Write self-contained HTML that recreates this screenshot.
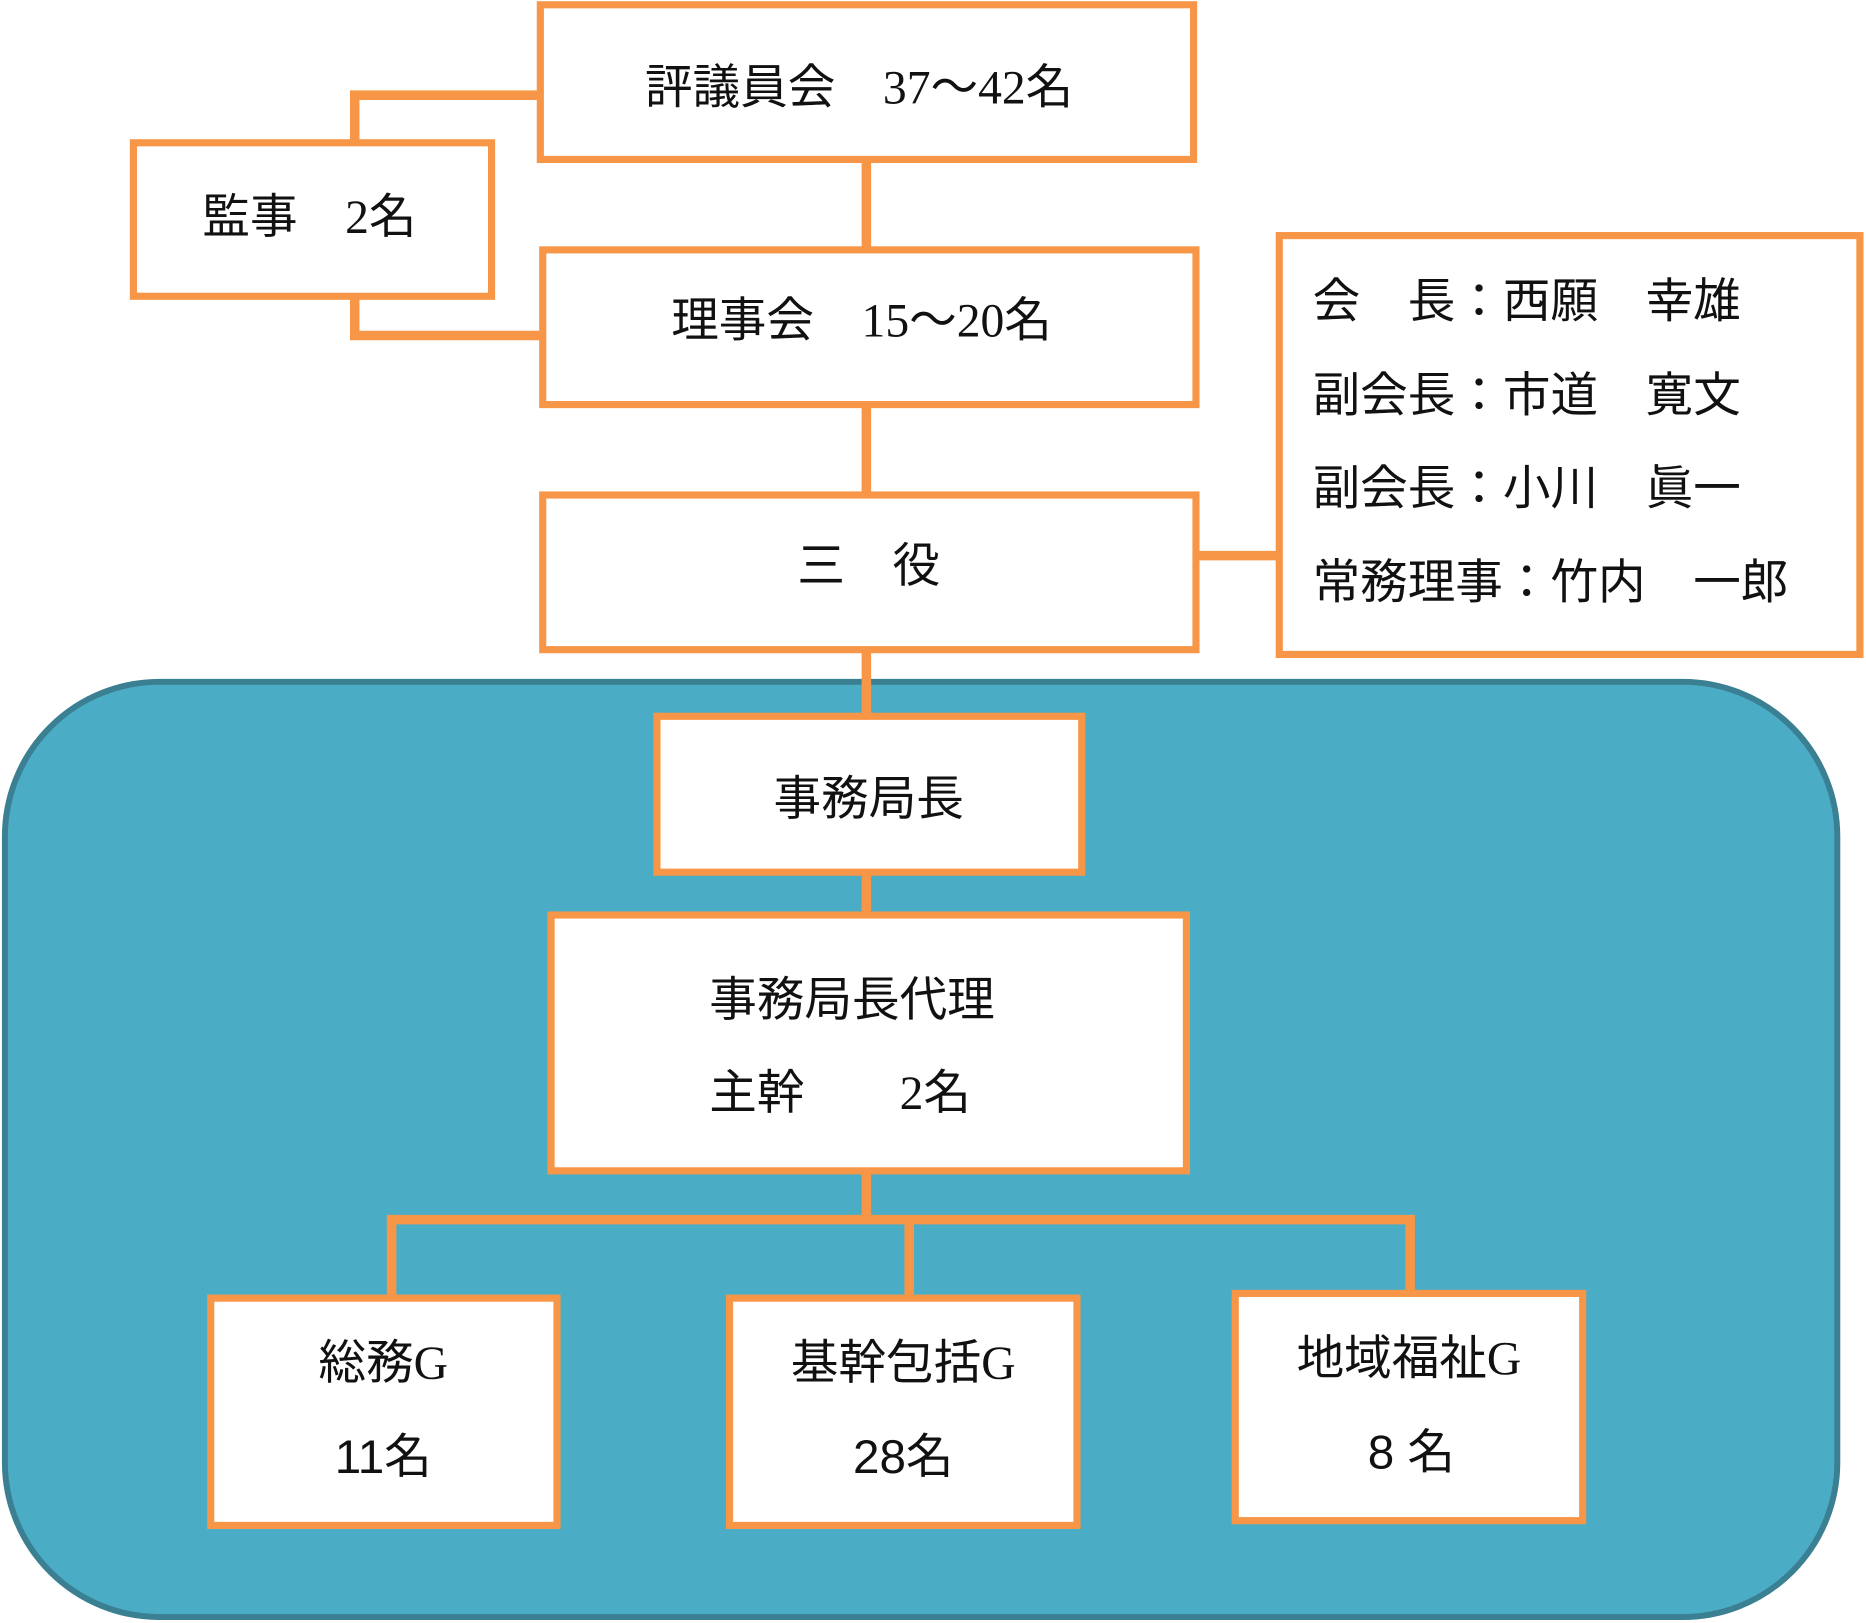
<!DOCTYPE html>
<html><head><meta charset="utf-8">
<style>
html,body{margin:0;padding:0;background:#fff;}
svg{display:block;}
text{font-family:"Liberation Sans","Noto Sans CJK JP",sans-serif;font-size:40px;fill:#111;}
.s{font-family:"Liberation Serif","Noto Sans CJK JP",serif;}
</style></head><body>
<svg width="1866" height="1623" viewBox="0 0 1568 1364" xmlns="http://www.w3.org/2000/svg">
<rect x="0" y="0" width="1568" height="1364" fill="#fff"/>
<rect x="4" y="573" width="1540" height="786" rx="130" ry="130" fill="#4BACC6" stroke="#3B7F92" stroke-width="5"/>
<g stroke="#F79646" stroke-width="8" fill="none">
<polyline points="454,80 298,80 298,119"/>
<polyline points="298,249 298,282 456,282"/>
<line x1="728" y1="134" x2="728" y2="209"/>
<line x1="728" y1="340" x2="728" y2="415"/>
<line x1="1005" y1="467" x2="1075" y2="467"/>
<line x1="728" y1="546" x2="728" y2="602"/>
<line x1="728" y1="733" x2="728" y2="768"/>
<line x1="728" y1="984" x2="728" y2="1025"/>
<line x1="325" y1="1025" x2="1189" y2="1025"/>
<line x1="329" y1="1025" x2="329" y2="1091"/>
<line x1="764" y1="1025" x2="764" y2="1091"/>
<line x1="1185" y1="1025" x2="1185" y2="1087"/>
</g>
<g stroke="#F79646" stroke-width="6" fill="#fff">
<rect x="454" y="4" width="549" height="130"/>
<rect x="112" y="120" width="301" height="129"/>
<rect x="456" y="210" width="549" height="130"/>
<rect x="456" y="416" width="549" height="130"/>
<rect x="1075" y="198" width="488" height="352"/>
<rect x="552" y="602" width="357" height="131"/>
<rect x="463" y="769" width="534" height="215"/>
<rect x="177" y="1091" width="291" height="191"/>
<rect x="613" y="1091" width="292" height="191"/>
<rect x="1038" y="1087" width="292" height="191"/>
</g>
<text x="542" y="87">評議員会　<tspan class="s">37～42</tspan>名</text>
<text x="170" y="196">監事　<tspan class="s">2</tspan>名</text>
<text x="564" y="283">理事会　<tspan class="s">15～20</tspan>名</text>
<text x="670" y="489">三　役</text>
<text x="1103" y="267">会　長：西願　幸雄</text>
<text x="1103" y="346">副会長：市道　寛文</text>
<text x="1103" y="424">副会長：小川　眞一</text>
<text x="1103" y="503">常務理事：竹内　一郎</text>
<text x="650" y="685">事務局長</text>
<text x="596" y="854">事務局長代理</text>
<text x="596" y="932">主幹　　<tspan class="s">2</tspan>名</text>
<text x="322" y="1159" text-anchor="middle">総務<tspan class="s">G</tspan></text>
<text x="322" y="1238" text-anchor="middle">11名</text>
<text x="759" y="1159" text-anchor="middle">基幹包括<tspan class="s">G</tspan></text>
<text x="759" y="1238" text-anchor="middle">28名</text>
<text x="1184" y="1155" text-anchor="middle">地域福祉<tspan class="s">G</tspan></text>
<text x="1186" y="1234" text-anchor="middle">8 名</text>
</svg>
</body></html>
